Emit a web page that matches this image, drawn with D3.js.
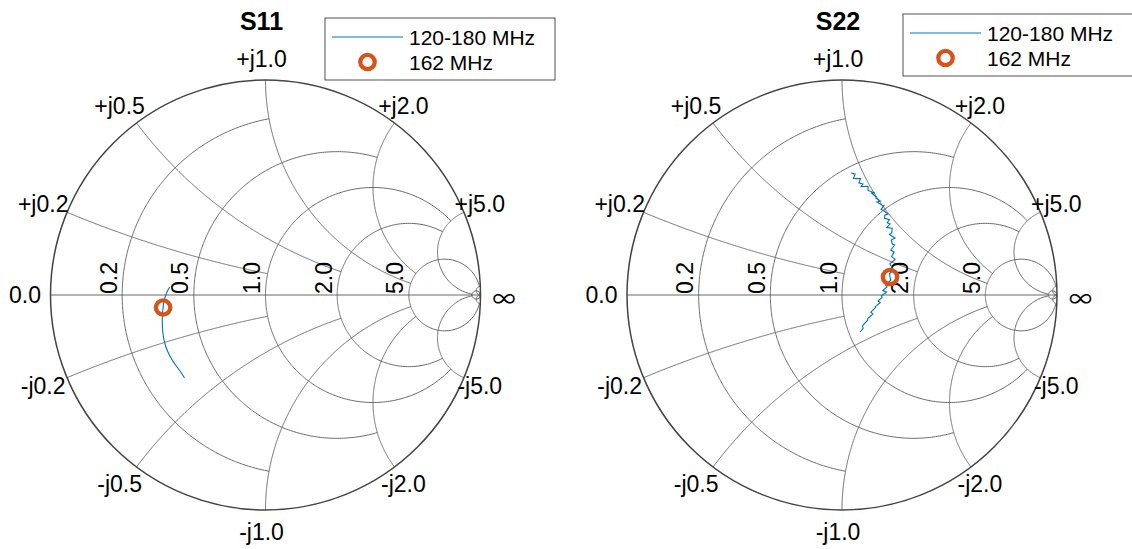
<!DOCTYPE html>
<html>
<head>
<meta charset="utf-8">
<script src="https://cdn.jsdelivr.net/npm/d3@7"></script>
<style>
  html, body { margin: 0; padding: 0; background: #fff; }
  svg { display: block; font-family: "Liberation Sans", Arial, Helvetica, sans-serif; }
</style>
</head>
<body>
<svg id="chart" width="1132" height="549"></svg>
<script>
// ---- Measured data: reflection coefficient (real, imaginary) vs frequency ----
const s11FreqMHz = [120, 125, 130, 135, 140, 145, 150, 155, 160, 162, 165, 170, 175, 180];
const s11Re = [-0.3767, -0.3977, -0.4186, -0.4395, -0.4558, -0.4674, -0.4753, -0.4795, -0.4795, -0.4763, -0.4721, -0.4637, -0.4549, -0.4456];
const s11Im = [-0.3860, -0.3535, -0.3256, -0.2930, -0.2605, -0.2279, -0.1907, -0.1488, -0.0930, -0.0581, -0.0279, 0.0000, 0.0209, 0.0372];

const s22FreqMHz = [120, 121, 122, 123, 124, 125, 126, 127, 128, 129, 130, 131, 132, 133, 134, 135, 136, 137, 138, 139,
                    140, 141, 142, 143, 144, 145, 146, 147, 148, 149, 150, 151, 152, 153, 154, 155, 156, 157, 158, 159,
                    160, 161, 162, 163, 164, 165, 166, 167, 168, 169, 170, 171, 172, 173, 174, 175, 176, 177, 178, 179, 180];
const s22Re = [0.0419, 0.0614, 0.0530, 0.0865, 0.0781, 0.0977, 0.0884, 0.1209, 0.1209, 0.1209,
               0.1535, 0.1377, 0.1591, 0.1572, 0.1786, 0.1628, 0.1860, 0.1953, 0.1814, 0.1953,
               0.2140, 0.1991, 0.1981, 0.2205, 0.2102, 0.2233, 0.2074, 0.2335, 0.2316, 0.2205,
               0.2465, 0.2288, 0.2344, 0.2447, 0.2270, 0.2419, 0.2307, 0.2474, 0.2223, 0.2298,
               0.2372, 0.2209, 0.2233, 0.2265, 0.2014, 0.2093, 0.1898, 0.2074, 0.1833, 0.1870,
               0.1674, 0.1777, 0.1553, 0.1563, 0.1340, 0.1442, 0.1200, 0.1191, 0.0949, 0.0986, 0.0837];
const s22Im = [0.5674, 0.5619, 0.5423, 0.5414, 0.5219, 0.5163, 0.5042, 0.5060, 0.4893, 0.4865,
               0.4744, 0.4744, 0.4558, 0.4512, 0.4372, 0.4326, 0.4177, 0.4167, 0.3972, 0.3916,
               0.3767, 0.3712, 0.3563, 0.3507, 0.3358, 0.3302, 0.3135, 0.3107, 0.2893, 0.2819,
               0.2651, 0.2558, 0.2372, 0.2326, 0.2093, 0.2000, 0.1786, 0.1665, 0.1451, 0.1330,
               0.1116, 0.1000, 0.0837, 0.0684, 0.0479, 0.0372, 0.0205, 0.0130, -0.0037, -0.0112,
               -0.0279, -0.0363, -0.0540, -0.0577, -0.0800, -0.0884, -0.1098, -0.1172, -0.1433, -0.1553, -0.1721];

const markerFreqMHz = 162;
const chartTitles = ["S11", "S22"];
const legendLabels = ["120-180 MHz", "162 MHz"];

// Smith grid: each value's circle/arc is drawn out to the paired limit
const gridValues = [0.2, 0.5, 1, 2, 5, 50];
const gridLimits = [1, 2, 5, 5, 50, Infinity];
const reactanceTicks = [0.2, 0.5, 1, 2, 5];
const resistanceTicks = [0.2, 0.5, 1, 2, 5];

// ---- Layout and style ----
const R = 215;
const panels = [
  { cx: 265.5, cy: 295, legendX: 325, legendY: 18 },
  { cx: 842,   cy: 295, legendX: 903, legendY: 14 }
];
const LEGEND_W = 230, LEGEND_H = 62;
const BLUE = "#0072BD", ORANGE = "#D95319";
const GRID = "#626262", RIM = "#444444";
const TICK_FONT = 23, TITLE_FONT = 25, LEGEND_FONT = 21;

const svg = d3.select("#chart");

// Normalised impedance r + jx  ->  reflection coefficient
function gamma(r, x) {
  const d = (r + 1) * (r + 1) + x * x;
  return [(r * r - 1 + x * x) / d, (2 * x) / d];
}

function samples(t0, t1, n) {
  const out = [];
  for (let i = 0; i <= n; i++) out.push(t0 + (t1 - t0) * i / n);
  return out;
}

const seriesList = [
  s11FreqMHz.map((f, i) => ({ f, re: s11Re[i], im: s11Im[i] })),
  s22FreqMHz.map((f, i) => ({ f, re: s22Re[i], im: s22Im[i] }))
];
const curves = [d3.curveCatmullRom, d3.curveLinear];

panels.forEach((p, k) => {
  const xs = d3.scaleLinear().domain([-1, 1]).range([p.cx - R, p.cx + R]);
  const ys = d3.scaleLinear().domain([-1, 1]).range([p.cy + R, p.cy - R]);
  const line = d3.line().x(d => xs(d[0])).y(d => ys(d[1]));
  const g = svg.append("g");
  const grid = g.append("g").attr("fill", "none").attr("stroke", GRID).attr("stroke-width", 0.95);

  gridValues.forEach((v, i) => {
    const lim = gridLimits[i];
    const tMax = isFinite(lim) ? Math.atan(lim) : Math.PI / 2;
    // constant-resistance circle, |x| <= lim
    const rPts = samples(-tMax, tMax, 360).map(t => gamma(v, Math.tan(t)));
    grid.append("path").attr("d", line(rPts));
    // constant-reactance arcs, 0 <= r <= lim
    [v, -v].forEach(xv => {
      const xPts = samples(0, tMax, 360).map(t => gamma(Math.tan(t), xv));
      grid.append("path").attr("d", line(xPts));
    });
  });

  // real axis
  grid.append("path").attr("d", line([[-1, 0], [1, 0]]));
  // outer rim (r = 0)
  g.append("circle")
    .attr("cx", xs(0)).attr("cy", ys(0)).attr("r", xs(1) - xs(0))
    .attr("fill", "none").attr("stroke", RIM).attr("stroke-width", 1.5);

  // reactance labels around the rim
  const labels = g.append("g").attr("font-size", TICK_FONT).attr("fill", "#000")
    .attr("text-anchor", "middle").attr("dominant-baseline", "central");
  const rimLabel = (pt, txt) => labels.append("text")
    .attr("x", xs(pt[0] * 1.1) - 4)
    .attr("y", ys(pt[1] * 1.1))
    .text(txt);
  reactanceTicks.forEach(x => {
    rimLabel(gamma(0, x), "+j" + x.toFixed(1));
    rimLabel(gamma(0, -x), "-j" + x.toFixed(1));
  });
  rimLabel([-1, 0], "0.0");
  rimLabel([1, 0], "\u221E")
    .attr("font-family", "Noto Sans CJK SC").attr("font-size", 23)
    .attr("x", xs(1.1) + 2).attr("y", ys(0) + 2);

  // resistance labels along the real axis
  resistanceTicks.forEach(r => {
    const gx = (r - 1) / (r + 1);
    const tx = xs(gx) - 5.5, ty = ys(0) - 1;
    g.append("text")
      .attr("transform", `translate(${tx},${ty}) rotate(-90)`)
      .attr("font-size", TICK_FONT).attr("fill", "#000")
      .text(r.toFixed(1));
  });

  // title
  g.append("text")
    .attr("x", xs(0) - 4).attr("y", 30)
    .attr("text-anchor", "middle").attr("font-size", TITLE_FONT).attr("font-weight", "bold")
    .text(chartTitles[k]);

  // measured trace
  const data = seriesList[k];
  g.append("path")
    .attr("d", d3.line().x(d => xs(d.re)).y(d => ys(d.im)).curve(curves[k])(data))
    .attr("fill", "none").attr("stroke", BLUE).attr("stroke-width", 1.1);

  // marker at the highlighted frequency
  const m = data.find(d => d.f === markerFreqMHz);
  g.append("circle")
    .attr("cx", xs(m.re)).attr("cy", ys(m.im)).attr("r", 7.2)
    .attr("fill", "none").attr("stroke", ORANGE).attr("stroke-width", 4.3);

  // legend
  const lg = svg.append("g").attr("transform", `translate(${p.legendX},${p.legendY})`);
  lg.append("rect").attr("width", LEGEND_W).attr("height", LEGEND_H)
    .attr("fill", "#fff").attr("stroke", "#262626").attr("stroke-width", 0.8);
  lg.append("line").attr("x1", 7).attr("x2", 78).attr("y1", 19).attr("y2", 19)
    .attr("stroke", BLUE).attr("stroke-width", 1);
  lg.append("circle").attr("cx", 42.5).attr("cy", 44).attr("r", 7.2)
    .attr("fill", "none").attr("stroke", ORANGE).attr("stroke-width", 4.3);
  legendLabels.forEach((t, i) => {
    lg.append("text").attr("x", 84).attr("y", 19 + i * 25)
      .attr("dominant-baseline", "central").attr("font-size", LEGEND_FONT)
      .text(t);
  });
});
</script>
</body>
</html>
